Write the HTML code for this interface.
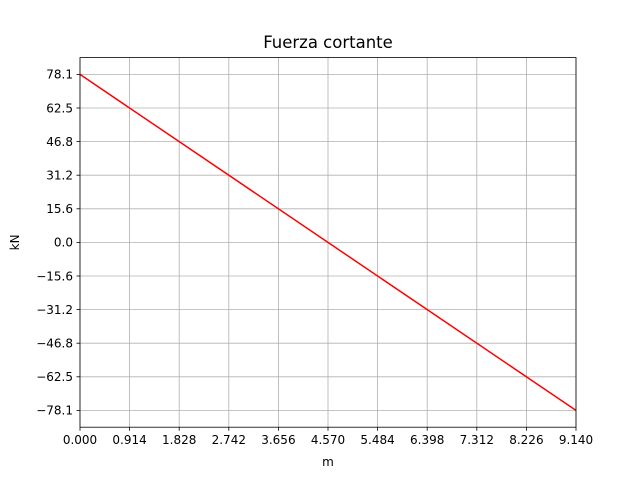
<!DOCTYPE html>
<html><head><meta charset="utf-8"><style>
body{margin:0;background:#fff;}
svg{display:block;font-family:"DejaVu Sans","Liberation Sans",sans-serif;}
</style></head><body>
<svg id="chart" width="640" height="480"></svg>
<script>
const xData = [0, 9.14];
const yData = [78.1, -78.1];
const xTickValues = [0, 0.914, 1.828, 2.742, 3.656, 4.570, 5.484, 6.398, 7.312, 8.226, 9.140];
const xTickLabels = ["0.000","0.914","1.828","2.742","3.656","4.570","5.484","6.398","7.312","8.226","9.140"];
const yTickValues = [-78.1, -62.48, -46.86, -31.24, -15.62, 0, 15.62, 31.24, 46.86, 62.48, 78.1];
const yTickLabels = ["\u221278.1","\u221262.5","\u221246.8","\u221231.2","\u221215.6","0.0","15.6","31.2","46.8","62.5","78.1"];

const NS = "http://www.w3.org/2000/svg";
const svg = document.getElementById('chart');
const L = 80, R = 576, T = 57.6, B = 427.2;
const xMin = 0, xMax = 9.14;
const yMax = 78.1 * 1.1, yMin = -yMax;
const sx = v => L + (v - xMin) / (xMax - xMin) * (R - L);
const sy = v => B - (v - yMin) / (yMax - yMin) * (B - T);
function mk(tag, attrs, parent) {
  const e = document.createElementNS(NS, tag);
  for (const k in attrs) e.setAttribute(k, attrs[k]);
  (parent || svg).appendChild(e);
  return e;
}
const grid = mk('g', {});


xTickValues.forEach((v, i) => {
  const x = sx(v);
  const gl = mk('line', {x1:x, x2:x, y1:T, y2:B, stroke:'#b0b0b0', 'stroke-width':0.8}, grid);
  
  
  const tk = mk('line', {x1:x, x2:x, y1:B, y2:B+3.5, stroke:'#000', 'stroke-width':0.8});
  
  
  const t = mk('text', {x:x, y:B+17, 'text-anchor':'middle', 'font-size':'12px', fill:'#000'});
  t.textContent = xTickLabels[i];
  
  
});
yTickValues.forEach((v, i) => {
  const y = sy(v);
  const gl = mk('line', {x1:L, x2:R, y1:y, y2:y, stroke:'#b0b0b0', 'stroke-width':0.8}, grid);
  
  
  const tk = mk('line', {x1:L-3.5, x2:L, y1:y, y2:y, stroke:'#000', 'stroke-width':0.8});
  
  
  const t = mk('text', {x:L-7, y:y+4.3, 'text-anchor':'end', 'font-size':'12px', fill:'#000'});
  t.textContent = yTickLabels[i];
  
  
});
const pts = xData.map((v, i) => sx(v) + ',' + sy(yData[i])).join(' ');
const line = mk('polyline', {points: pts, fill:'none', stroke:'#ff0000', 'stroke-width':1.5});


const frame = mk('rect', {x:L, y:T, width:R-L, height:B-T, fill:'none', stroke:'#000', 'stroke-width':0.8});


const title = mk('text', {x:(L+R)/2, y:48, 'text-anchor':'middle', 'font-size':'16.5px', fill:'#000'});
title.textContent = 'Fuerza cortante';


const xl = mk('text', {x:(L+R)/2, y:466, 'text-anchor':'middle', 'font-size':'12px', fill:'#000'});
xl.textContent = 'm';


const yl = mk('text', {x:19, y:(T+B)/2, 'text-anchor':'middle', 'font-size':'12px', fill:'#000', transform:'rotate(-90 19 ' + (T+B)/2 + ')'});
yl.textContent = 'kN';


</script>
</body></html>
